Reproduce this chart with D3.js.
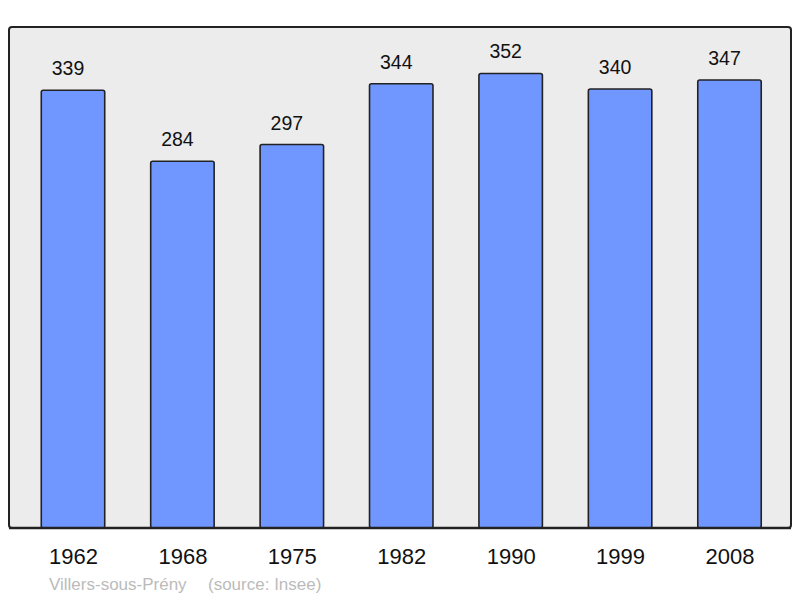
<!DOCTYPE html>
<html>
<head>
<meta charset="utf-8">
<script src="https://cdn.jsdelivr.net/npm/d3@7"></script>
<style>
  body { margin: 0; background: #fff; }
  text { font-family: "Liberation Sans", Arial, sans-serif; }
</style>
</head>
<body>
<svg id="chart" width="800" height="598"></svg>
<script>
// population figures
const years = ['1962', '1968', '1975', '1982', '1990', '1999', '2008'];
const population = [339, 284, 297, 344, 352, 340, 347];
const place = 'Villers-sous-Prény';
const source = '(source: Insee)';

const svg = d3.select('#chart');

const panel = { left: 9, top: 27, right: 791, bottom: 528 };

// background panel
svg.append('rect')
  .attr('x', panel.left)
  .attr('y', panel.top)
  .attr('width', panel.right - panel.left)
  .attr('height', panel.bottom - panel.top)
  .attr('rx', 3)
  .attr('fill', '#ececec')
  .attr('stroke', '#222')
  .attr('stroke-width', 2);

const x = d3.scalePoint().domain(years).range([73, 729.5]);
const step = x.step();
const barW = step * 0.58;

const y = d3.scaleLinear().domain([0, 388]).range([panel.bottom, panel.top]);

const bars = svg.append('g');
bars.selectAll('rect')
  .data(years)
  .enter()
  .append('rect')
  .attr('x', d => x(d) - barW / 2)
  .attr('y', (d, i) => y(population[i]))
  .attr('width', barW)
  .attr('height', (d, i) => y(0) - y(population[i]))
  .attr('rx', 2)
  .attr('fill', '#7097ff')
  .attr('stroke', '#222')
  .attr('stroke-width', 1.6);

// value labels (sit a little left of the bar centre in the original)
svg.append('g').selectAll('text')
  .data(years)
  .enter()
  .append('text')
  .attr('x', d => x(d) - 5)
  .attr('y', (d, i) => y(population[i]) - 15)
  .attr('text-anchor', 'middle')
  .attr('font-size', 19.5)
  .attr('fill', '#111')
  .text((d, i) => population[i]);

// redraw the bottom edge over bar strokes
svg.append('line')
  .attr('x1', panel.left)
  .attr('x2', panel.right)
  .attr('y1', panel.bottom)
  .attr('y2', panel.bottom)
  .attr('stroke', '#222')
  .attr('stroke-width', 2.5);

// year axis, no line or ticks
const xAxis = svg.append('g')
  .attr('transform', `translate(0, ${panel.bottom})`)
  .call(d3.axisBottom(x).tickSize(0).tickPadding(20.5));
xAxis.select('.domain').remove();
xAxis.selectAll('.tick text')
  .attr('font-family', '"Liberation Sans", Arial, sans-serif')
  .attr('font-size', 22)
  .attr('fill', '#111');

svg.append('text')
  .attr('x', 49)
  .attr('y', 590)
  .attr('font-size', 17)
  .attr('fill', '#bbbbbb')
  .text(place);

svg.append('text')
  .attr('x', 208)
  .attr('y', 590)
  .attr('font-size', 17)
  .attr('fill', '#bbbbbb')
  .text(source);
</script>
</body>
</html>
